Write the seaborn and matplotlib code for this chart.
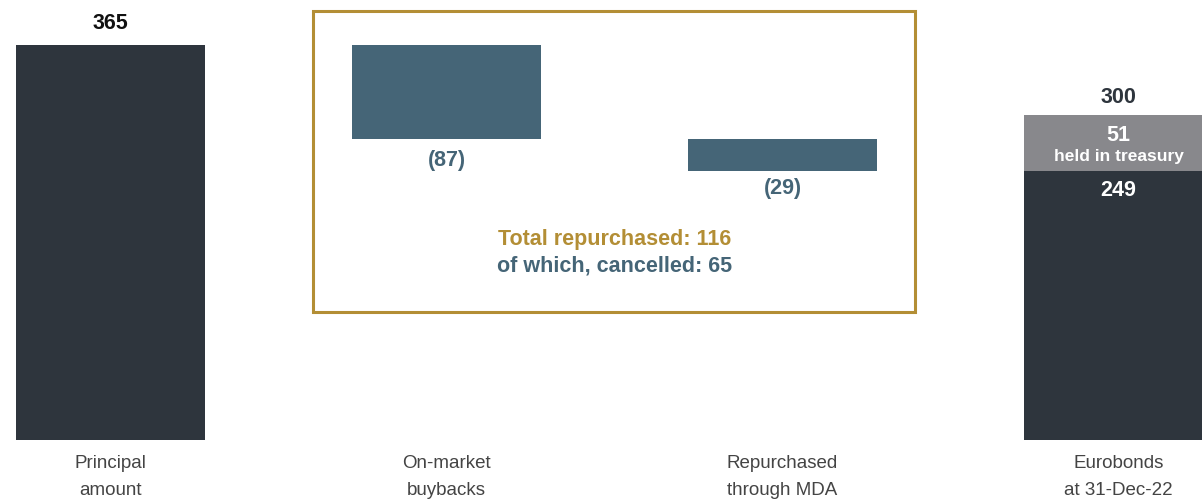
import matplotlib
matplotlib.use("Agg")
import matplotlib.pyplot as plt
import seaborn as sns
import pandas as pd
from matplotlib.patches import Rectangle

categories = ["Principal\namount", "On-market\nbuybacks", "Repurchased\nthrough MDA", "Eurobonds\nat 31-Dec-22"]
principal = 365
buybacks = [87, 29]
eurobond_outstanding = 249
eurobond_treasury = 51
eurobond_total = 300
total_repurchased = 116
cancelled = 65

DARK = "#2E353D"
SLATE = "#456577"
GRAY = "#88888C"
GOLD = "#B38E35"
LABEL = "#444444"

sns.set_theme(style="white")
plt.rcParams["font.family"] = ["Liberation Sans", "DejaVu Sans"]

fig = plt.figure(figsize=(12.02, 4.99), dpi=100)
ax = fig.add_axes([0, 59 / 499, 1, 440 / 499])

W = 0.5625
# layer 1: dark totals
dark_df = pd.DataFrame({"cat": [categories[0], categories[3]], "val": [principal, eurobond_outstanding]})
sns.barplot(data=dark_df, x="cat", y="val", order=categories, color=DARK, width=W,
            saturation=1, ax=ax, linewidth=0)
# layer 2: floating buyback bars
b1 = principal - buybacks[0]
b2 = b1 - buybacks[1]
slate_df = pd.DataFrame({"cat": [categories[1], categories[2]], "val": buybacks})
sns.barplot(data=slate_df, x="cat", y="val", order=categories, color=SLATE, width=W,
            saturation=1, ax=ax, linewidth=0, bottom=[b1, b2])
# layer 3: treasury on top of eurobonds
gray_df = pd.DataFrame({"cat": [categories[3]], "val": [eurobond_treasury]})
sns.barplot(data=gray_df, x="cat", y="val", order=categories, color=GRAY, width=W,
            saturation=1, ax=ax, linewidth=0, bottom=[eurobond_outstanding])

ppu = 440 / 406.6
x0 = -110.5 / 336
x1 = (1202 - 110.5) / 336
ax.set_xlim(x0, x1)
ax.set_ylim(0, 406.6)
for s in ax.spines.values():
    s.set_visible(False)
ax.set_yticks([])
ax.set_xlabel("")
ax.set_ylabel("")
ax.tick_params(axis="x", length=0, pad=11, labelsize=13.5, labelcolor=LABEL)
for t in ax.get_xticklabels():
    t.set_linespacing(1.72)
    t.set_fontfamily(["Liberation Sans", "DejaVu Sans"])

fs = 15.5
def px(v):
    return v / ppu

ax.text(0, principal + px(22), f"{principal}", ha="center", va="center", fontsize=fs,
        fontweight="bold", color="#111111")
ax.text(1, b1 - px(21), f"({buybacks[0]})", ha="center", va="center", fontsize=fs,
        fontweight="bold", color=SLATE)
ax.text(2, b2 - px(18), f"({buybacks[1]})", ha="center", va="center", fontsize=fs,
        fontweight="bold", color=SLATE)
ax.text(3, eurobond_total + px(18), f"{eurobond_total}", ha="center", va="center", fontsize=fs,
        fontweight="bold", color=DARK)
ax.text(3, eurobond_total - px(20), f"{eurobond_treasury}", ha="center", va="center", fontsize=fs,
        fontweight="bold", color="white")
ax.text(3, eurobond_total - px(41), "held in treasury", ha="center", va="center", fontsize=12.5,
        fontweight="bold", color="white")
ax.text(3, eurobond_outstanding - px(20), f"{eurobond_outstanding}", ha="center", va="center",
        fontsize=fs, fontweight="bold", color="white")

ax.text(1.5, (440 - 239) / ppu, f"Total repurchased: {total_repurchased}", ha="center", va="center",
        fontsize=fs, fontweight="bold", color=GOLD)
ax.text(1.5, (440 - 266) / ppu, f"of which, cancelled: {cancelled}", ha="center", va="center",
        fontsize=fs, fontweight="bold", color=SLATE)

bx0 = (313 - 110.5) / 336
bx1 = (915 - 110.5) / 336
by0 = (440 - 312) / ppu
by1 = (440 - 11) / ppu
ax.add_patch(Rectangle((bx0, by0), bx1 - bx0, by1 - by0, fill=False, edgecolor=GOLD,
                       linewidth=2.2, zorder=5))

fig.savefig("out.png", dpi=100)
